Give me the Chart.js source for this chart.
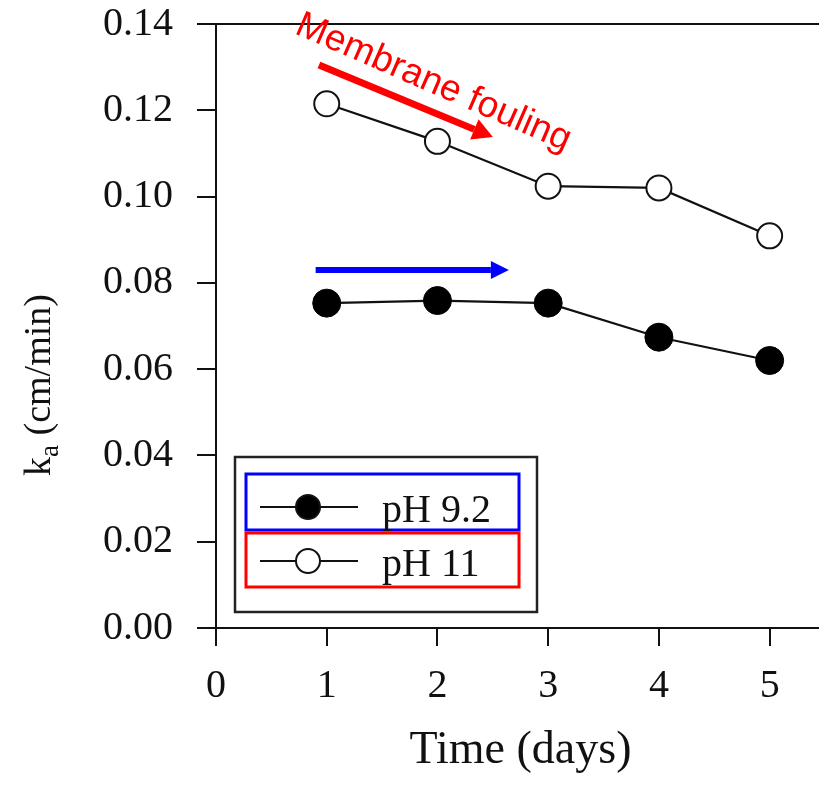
<!DOCTYPE html>
<html>
<head>
<meta charset="utf-8">
<script src="https://cdn.jsdelivr.net/npm/chart.js@4.4.1/dist/chart.umd.min.js"></script>
<style>
  html, body { margin: 0; padding: 0; background: #ffffff; overflow: hidden; width: 819px; height: 787px; }
  canvas { display: block; }
</style>
</head>
<body>
<canvas id="chart" width="840" height="787"></canvas>
<script>
// Mass transfer coefficient k_a over time at two pH levels
const days = [1, 2, 3, 4, 5];
const kaPH92 = [0.0753, 0.0759, 0.0753, 0.0674, 0.0620];
const kaPH11 = [0.1215, 0.1128, 0.1024, 0.1020, 0.0909];
const seriesLabels = ['pH 9.2', 'pH 11'];
const xTickValues = [0, 1, 2, 3, 4, 5];
const yTickValues = [0, 0.02, 0.04, 0.06, 0.08, 0.10, 0.12, 0.14];
const xAxisTitle = 'Time (days)';
const yAxisTitleMain = 'k';
const yAxisTitleSub = 'a';
const yAxisTitleRest = ' (cm/min)';
const annotationText = 'Membrane fouling';

const SERIF = '"Liberation Serif", "Times New Roman", serif';
const SANS = '"Liberation Sans", Arial, sans-serif';

function toPoints(xs, ys) {
  return xs.map((x, i) => ({ x: x, y: ys[i] }));
}

function drawArrow(ctx, x1, y1, x2, y2, color, shaft, headLen, headHalf) {
  const ang = Math.atan2(y2 - y1, x2 - x1);
  const bx = x2 - Math.cos(ang) * headLen;
  const by = y2 - Math.sin(ang) * headLen;
  ctx.save();
  ctx.strokeStyle = color;
  ctx.fillStyle = color;
  ctx.lineWidth = shaft;
  ctx.lineCap = 'butt';
  ctx.beginPath();
  ctx.moveTo(x1, y1);
  ctx.lineTo(bx, by);
  ctx.stroke();
  ctx.beginPath();
  ctx.moveTo(x2, y2);
  ctx.lineTo(bx + Math.sin(ang) * headHalf, by - Math.cos(ang) * headHalf);
  ctx.lineTo(bx - Math.sin(ang) * headHalf, by + Math.cos(ang) * headHalf);
  ctx.closePath();
  ctx.fill();
  ctx.restore();
}

// Frame edges, y-axis title with subscript, arrows and boxed legend
const decorations = {
  id: 'decorations',
  afterDraw(chart) {
    const ctx = chart.ctx;
    const area = chart.chartArea;
    const xs = chart.scales.x;
    const ys = chart.scales.y;

    // top and right frame lines
    ctx.save();
    ctx.strokeStyle = '#111';
    ctx.lineWidth = 2;
    ctx.beginPath();
    ctx.moveTo(area.left, area.top);
    ctx.lineTo(area.right, area.top);
    ctx.lineTo(area.right, area.bottom);
    ctx.stroke();
    ctx.restore();

    // y-axis title
    ctx.save();
    ctx.translate(50, 385);
    ctx.rotate(-Math.PI / 2);
    ctx.fillStyle = '#111';
    ctx.textBaseline = 'alphabetic';
    const mainFont = '38px ' + SERIF;
    const subFont = '27px ' + SERIF;
    ctx.font = mainFont;
    const wMain = ctx.measureText(yAxisTitleMain).width;
    const wRest = ctx.measureText(yAxisTitleRest).width;
    ctx.font = subFont;
    const wSub = ctx.measureText(yAxisTitleSub).width;
    let cx = -(wMain + wSub + wRest) / 2;
    ctx.font = mainFont;
    ctx.fillText(yAxisTitleMain, cx, 0);
    cx += wMain;
    ctx.font = subFont;
    ctx.fillText(yAxisTitleSub, cx, 8);
    cx += wSub;
    ctx.font = mainFont;
    ctx.fillText(yAxisTitleRest, cx, 0);
    ctx.restore();

    // red trend arrow with label
    drawArrow(ctx,
      xs.getPixelForValue(0.93), ys.getPixelForValue(0.1305),
      xs.getPixelForValue(2.50), ys.getPixelForValue(0.1138),
      '#ff0000', 7, 20, 11);
    ctx.save();
    ctx.translate(xs.getPixelForValue(0.70), ys.getPixelForValue(0.1379));
    ctx.rotate(23.5 * Math.PI / 180);
    ctx.fillStyle = '#ff0000';
    ctx.font = '37px ' + SANS;
    ctx.textBaseline = 'alphabetic';
    ctx.textAlign = 'left';
    ctx.fillText(annotationText, 0, 0);
    ctx.restore();

    // blue flat arrow
    drawArrow(ctx,
      xs.getPixelForValue(0.90), ys.getPixelForValue(0.0830),
      xs.getPixelForValue(2.645), ys.getPixelForValue(0.0830),
      '#0000ff', 6, 18, 9);

    // legend
    ctx.save();
    ctx.strokeStyle = '#222';
    ctx.lineWidth = 2.5;
    ctx.strokeRect(235, 457, 302, 155);
    const rows = [
      { box: [246, 474, 273, 56], color: '#0000ff', y: 507 },
      { box: [246, 533, 273, 54], color: '#ff0000', y: 561 }
    ];
    chart.data.datasets.forEach((ds, i) => {
      const r = rows[i];
      ctx.strokeStyle = r.color;
      ctx.lineWidth = 3;
      ctx.strokeRect(r.box[0], r.box[1], r.box[2], r.box[3]);
      ctx.strokeStyle = '#111';
      ctx.lineWidth = 2;
      ctx.beginPath();
      ctx.moveTo(260, r.y);
      ctx.lineTo(358, r.y);
      ctx.stroke();
      ctx.beginPath();
      ctx.arc(308, r.y, 12, 0, Math.PI * 2);
      ctx.fillStyle = ds.pointBackgroundColor;
      ctx.fill();
      ctx.lineWidth = 2;
      ctx.strokeStyle = '#111';
      ctx.stroke();
      ctx.fillStyle = '#111';
      ctx.font = '40px ' + SERIF;
      ctx.textBaseline = 'middle';
      ctx.textAlign = 'left';
      ctx.fillText(ds.label, 382, r.y + 4);
    });
    ctx.restore();
  }
};

new Chart(document.getElementById('chart'), {
  type: 'line',
  data: {
    datasets: [
      {
        label: seriesLabels[0],
        data: toPoints(days, kaPH92),
        borderColor: '#111',
        borderWidth: 2.2,
        pointRadius: 14,
        pointBackgroundColor: '#000',
        pointBorderColor: '#000',
        pointBorderWidth: 1,
        tension: 0
      },
      {
        label: seriesLabels[1],
        data: toPoints(days, kaPH11),
        borderColor: '#111',
        borderWidth: 2.2,
        pointRadius: 12.5,
        pointBackgroundColor: '#ffffff',
        pointBorderColor: '#111',
        pointBorderWidth: 2,
        tension: 0
      }
    ]
  },
  options: {
    responsive: false,
    animation: false,
    devicePixelRatio: 1,
    layout: { padding: 0 },
    plugins: {
      legend: { display: false },
      tooltip: { enabled: false }
    },
    scales: {
      x: {
        type: 'linear',
        min: 0,
        max: 5.5,
        afterBuildTicks(scale) { scale.ticks = xTickValues.map(v => ({ value: v })); },
        afterFit(scale) { scale.height = 159; },
        border: { display: true, color: '#111', width: 2 },
        grid: { drawOnChartArea: false, drawTicks: true, tickLength: 18, color: '#111', lineWidth: 2 },
        ticks: {
          color: '#111',
          font: { family: SERIF, size: 40 },
          padding: 16,
          maxRotation: 0,
          autoSkip: false,
          callback: v => String(v)
        },
        title: {
          display: true,
          text: xAxisTitle,
          color: '#111',
          font: { family: SERIF, size: 46 },
          padding: { top: 0, bottom: 8 }
        }
      },
      y: {
        type: 'linear',
        min: 0,
        max: 0.14,
        afterBuildTicks(scale) { scale.ticks = yTickValues.map(v => ({ value: v })); },
        afterFit(scale) { scale.width = 216; scale.paddingTop = 24; scale.paddingBottom = 0; },
        border: { display: true, color: '#111', width: 2 },
        grid: { drawOnChartArea: false, drawTicks: true, tickLength: 19, color: '#111', lineWidth: 2 },
        ticks: {
          color: '#111',
          font: { family: SERIF, size: 40 },
          padding: 24,
          autoSkip: false,
          callback: v => v.toFixed(2)
        }
      }
    }
  },
  plugins: [decorations]
});
</script>
</body>
</html>
